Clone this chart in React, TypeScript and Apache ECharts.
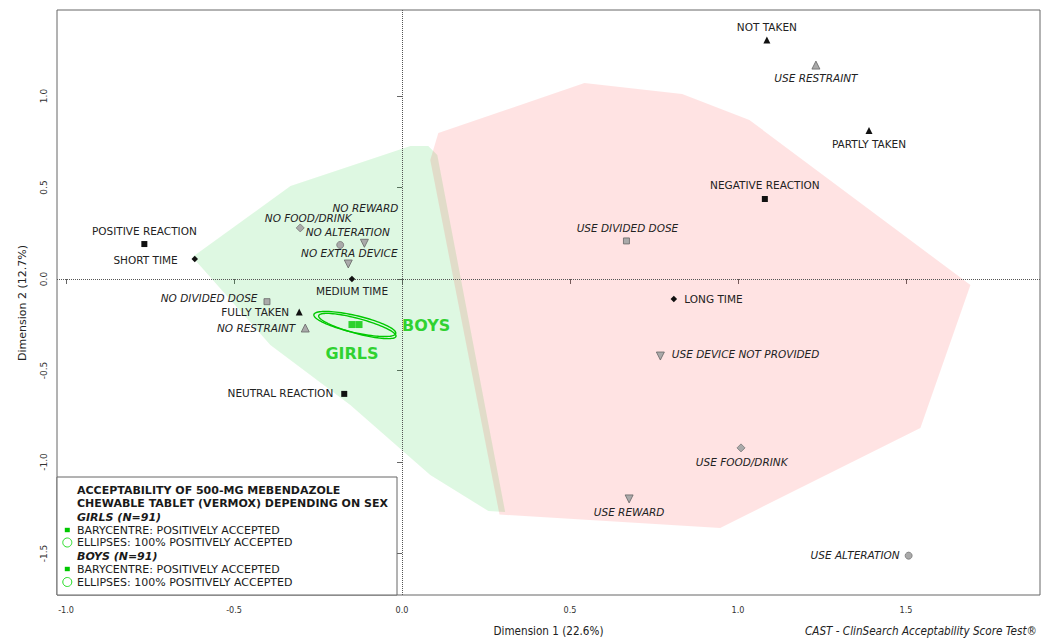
import React, { useEffect, useRef } from "react";
import * as echarts from "echarts";

// ---- Modalities (MCA coordinates) ----
const modalityNames = [
  "NOT TAKEN", "PARTLY TAKEN", "FULLY TAKEN",
  "POSITIVE REACTION", "NEGATIVE REACTION", "NEUTRAL REACTION",
  "SHORT TIME", "MEDIUM TIME", "LONG TIME",
  "USE RESTRAINT", "NO RESTRAINT",
  "USE DIVIDED DOSE", "NO DIVIDED DOSE",
  "USE FOOD/DRINK", "NO FOOD/DRINK",
  "USE ALTERATION", "NO ALTERATION",
  "USE REWARD", "NO REWARD",
  "USE DEVICE NOT PROVIDED", "NO EXTRA DEVICE",
];
const dim1Values = [
  1.086, 1.39, -0.306,
  -0.767, 1.08, -0.172,
  -0.617, -0.149, 0.809,
  1.232, -0.288,
  0.668, -0.402,
  1.009, -0.303,
  1.508, -0.184,
  0.676, -0.112,
  0.769, -0.16,
];
const dim2Values = [
  1.306, 0.811, -0.18,
  0.191, 0.437, -0.628,
  0.109, 0.0, -0.109,
  1.169, -0.268,
  0.208, -0.124,
  -0.923, 0.279,
  -1.512, 0.186,
  -1.202, 0.195,
  -0.421, 0.082,
];
const modalityVariable = [
  "taken", "taken", "taken",
  "reaction", "reaction", "reaction",
  "time", "time", "time",
  "restraint", "restraint",
  "dose", "dose",
  "food", "food",
  "alteration", "alteration",
  "reward", "reward",
  "device", "device",
];

// ---- Convex hulls (clusters) ----
const greenHullX = [-0.624, -0.332, 0.025, 0.078, 0.105, 0.307, 0.257, 0.084, -0.154, -0.392];
const greenHullY = [0.12, 0.508, 0.727, 0.727, 0.678, -1.273, -1.268, -1.071, -0.689, -0.361];
const pinkHullX = [0.108, 0.543, 0.834, 1.034, 1.692, 1.543, 0.947, 0.29, 0.084];
const pinkHullY = [0.798, 1.071, 1.011, 0.869, -0.033, -0.814, -1.361, -1.287, 0.65];

// ---- Barycentres and ellipses (girls, boys) ----
const groupNames = ["GIRLS", "BOYS"];
const barycentreX = [-0.149, -0.128];
const barycentreY = [-0.249, -0.249];
const ellipseCentreX = [-0.1405, -0.133];
const ellipseCentreY = [-0.2459, -0.257];
const ellipseMajorX = [0.1218, 0.115];
const ellipseMajorY = [-0.0516, -0.0566];
const ellipseMinorX = [-0.00569, -0.00578];
const ellipseMinorY = [-0.0452, -0.0396];

// ---- Axes ----
const xTicks = [-1.0, -0.5, 0.0, 0.5, 1.0, 1.5];
const yTicks = [-1.5, -1.0, -0.5, 0.0, 0.5, 1.0];
const xTitle = "Dimension 1 (22.6%)";
const yTitle = "Dimension 2 (12.7%)";
const footnote = "CAST - ClinSearch Acceptability Score Test®";

const FONT = '"DejaVu Sans", "Noto Sans", sans-serif';
const FONT_C = '"DejaVu Sans Condensed", "DejaVu Sans", sans-serif';
const GREEN = "#00c800";

const markerStyles: Record<string, any> = {
  taken: { symbol: "triangle", size: 7, color: "#111", border: "#111", rotate: 0, italic: false },
  reaction: { symbol: "rect", size: 6, color: "#111", border: "#111", rotate: 0, italic: false },
  time: { symbol: "diamond", size: 6.5, color: "#111", border: "#111", rotate: 0, italic: false },
  restraint: { symbol: "triangle", size: 8, color: "#aaa", border: "#666", rotate: 0, italic: true },
  dose: { symbol: "rect", size: 6, color: "#aaa", border: "#666", rotate: 0, italic: true },
  food: { symbol: "diamond", size: 8, color: "#aaa", border: "#777", rotate: 0, italic: true },
  alteration: { symbol: "circle", size: 7, color: "#aaa", border: "#777", rotate: 0, italic: true },
  reward: { symbol: "triangle", size: 8, color: "#aaa", border: "#666", rotate: 180, italic: true },
  device: { symbol: "triangle", size: 8, color: "#aaa", border: "#666", rotate: 180, italic: true },
};

// label placement: [align, dx, dy]
const labelPlacement: Record<string, [string, number, number]> = {
  "NOT TAKEN": ["center", 0, -13],
  "PARTLY TAKEN": ["center", 0, 13.5],
  "FULLY TAKEN": ["right", -10, 0],
  "POSITIVE REACTION": ["center", 0, -13.5],
  "NEGATIVE REACTION": ["center", 0, -14],
  "NEUTRAL REACTION": ["right", -11, -1],
  "SHORT TIME": ["right", -17, 1],
  "MEDIUM TIME": ["center", 0, 12.5],
  "LONG TIME": ["left", 10.5, 0],
  "USE RESTRAINT": ["center", 0, 13.3],
  "NO RESTRAINT": ["right", -10, 0],
  "USE DIVIDED DOSE": ["center", 1, -13.3],
  "NO DIVIDED DOSE": ["right", -9.5, -3.5],
  "USE FOOD/DRINK": ["center", 0.7, 13.7],
  "NO FOOD/DRINK": ["center", 8, -10],
  "USE ALTERATION": ["right", -9, -0.5],
  "NO ALTERATION": ["center", 7.5, -13],
  "USE REWARD": ["center", 0, 12.7],
  "NO REWARD": ["center", 1, -35.5],
  "USE DEVICE NOT PROVIDED": ["left", 11.5, -2.5],
  "NO EXTRA DEVICE": ["center", 1, -11],
};

function buildOption(): any {
  const variables = Array.from(new Set(modalityVariable));
  const scatterSeries = variables.map((v) => {
    const st = markerStyles[v];
    const data = modalityNames
      .map((name, i) => ({ name, i }))
      .filter((d) => modalityVariable[d.i] === v)
      .map(({ name, i }) => {
        const [align, dx, dy] = labelPlacement[name];
        return {
          name,
          value: [dim1Values[i], dim2Values[i]],
          label: {
            show: true,
            position: "inside",
            align,
            verticalAlign: "middle",
            offset: [dx, dy],
            formatter: name,
          },
        };
      });
    return {
      type: "scatter",
      name: v,
      data,
      symbol: st.symbol,
      symbolSize: st.size,
      symbolRotate: st.rotate,
      itemStyle: { color: st.color, borderColor: st.border, borderWidth: st.italic ? 0.8 : 0, opacity: 1 },
      label: {
        fontFamily: FONT,
        fontSize: 10.5,
        color: "#222",
        fontStyle: st.italic ? "italic" : "normal",
      },
      z: 5,
      silent: true,
    };
  });

  const hullSeries = (xs: number[], ys: number[], fill: string, withLines: boolean) => ({
    type: "custom",
    data: [[xs[0], ys[0]]],
    clip: true,
    z: 1,
    silent: true,
    renderItem: (_params: any, api: any) => {
      const pts = xs.map((x, i) => api.coord([x, ys[i]]));
      return { type: "polygon", shape: { points: pts }, style: { fill, stroke: "none" } };
    },
    markLine: withLines
      ? {
          silent: true,
          symbol: ["none", "none"],
          label: { show: false },
          lineStyle: { type: "dotted", color: "#555", width: 1 },
          data: [{ xAxis: 0 }, { yAxis: 0 }],
        }
      : undefined,
  });

  const ellipseSeries = {
    type: "custom",
    data: ellipseCentreX.map((x, i) => [x, ellipseCentreY[i]]),
    z: 6,
    silent: true,
    renderItem: (params: any, api: any) => {
      const i = params.dataIndex;
      const pts: number[][] = [];
      const n = 90;
      for (let k = 0; k < n; k++) {
        const t = (k / n) * Math.PI * 2;
        const x = ellipseCentreX[i] + ellipseMajorX[i] * Math.cos(t) + ellipseMinorX[i] * Math.sin(t);
        const y = ellipseCentreY[i] + ellipseMajorY[i] * Math.cos(t) + ellipseMinorY[i] * Math.sin(t);
        pts.push(api.coord([x, y]));
      }
      return { type: "polygon", shape: { points: pts }, style: { fill: "none", stroke: GREEN, lineWidth: 1.4 } };
    },
  };

  const barycentreSeries = {
    type: "scatter",
    z: 7,
    silent: true,
    symbol: "rect",
    symbolSize: 7,
    itemStyle: { color: GREEN },
    data: groupNames.map((g, i) => ({
      name: g,
      value: [barycentreX[i], barycentreY[i]],
      label: {
        show: true,
        formatter: g,
        position: "inside",
        align: i === 0 ? "center" : "left",
        verticalAlign: "middle",
        offset: i === 0 ? [0, 29] : [43, 0.5],
        fontFamily: FONT,
        fontWeight: "bold",
        fontSize: 16,
        color: GREEN,
      },
    })),
  };

  const legendLines = [
    { text: "ACCEPTABILITY OF 500-MG MEBENDAZOLE", y: 490, font: `bold 11px ${FONT}`, marker: "" },
    { text: "CHEWABLE TABLET (VERMOX) DEPENDING ON SEX", y: 503.5, font: `bold 11px ${FONT}`, marker: "" },
    { text: "GIRLS (N=91)", y: 517, font: `italic bold 11px ${FONT}`, marker: "" },
    { text: "BARYCENTRE: POSITIVELY ACCEPTED", y: 530, font: `11px ${FONT}`, marker: "rect" },
    { text: "ELLIPSES: 100% POSITIVELY ACCEPTED", y: 542.5, font: `11px ${FONT}`, marker: "circle" },
    { text: "BOYS (N=91)", y: 556, font: `italic bold 11px ${FONT}`, marker: "" },
    { text: "BARYCENTRE: POSITIVELY ACCEPTED", y: 569, font: `11px ${FONT}`, marker: "rect" },
    { text: "ELLIPSES: 100% POSITIVELY ACCEPTED", y: 582, font: `11px ${FONT}`, marker: "circle" },
  ];
  const legendElements: any[] = [
    {
      type: "rect",
      shape: { x: 57, y: 477, width: 340, height: 118 },
      style: { fill: "#fff", stroke: "#666", lineWidth: 1 },
      z: 100,
    },
  ];
  legendLines.forEach((l) => {
    legendElements.push({
      type: "text",
      x: 77,
      y: l.y,
      z: 101,
      style: { text: l.text, font: l.font, fill: "#1a1a1a", verticalAlign: "middle", align: "left" },
    });
    if (l.marker === "rect") {
      legendElements.push({
        type: "rect",
        z: 101,
        shape: { x: 64.8, y: l.y - 2.2, width: 5, height: 4.4 },
        style: { fill: GREEN },
      });
    } else if (l.marker === "circle") {
      legendElements.push({
        type: "circle",
        z: 101,
        shape: { cx: 67.3, cy: l.y, r: 4.5 },
        style: { fill: "none", stroke: "#22dd22", lineWidth: 1 },
      });
    }
  });

  const titles: any[] = [
    {
      type: "text",
      x: 548.5,
      y: 631,
      style: { text: xTitle, font: `11.6px ${FONT_C}`, fill: "#222", align: "center", verticalAlign: "middle" },
    },
    {
      type: "text",
      x: 22,
      y: 303,
      rotation: Math.PI / 2,
      style: { text: yTitle, font: `11px ${FONT}`, fill: "#222", align: "center", verticalAlign: "middle" },
    },
    {
      type: "text",
      x: 1037,
      y: 631,
      style: { text: footnote, font: `italic 11.6px ${FONT_C}`, fill: "#222", align: "right", verticalAlign: "middle" },
    },
  ];

  return {
    animation: false,
    backgroundColor: "#fff",
    grid: {
      show: true,
      left: 57,
      top: 10,
      width: 983,
      height: 585,
      borderColor: "#666",
      borderWidth: 1,
      backgroundColor: "transparent",
    },
    xAxis: {
      type: "value",
      min: -1.027,
      max: 1.899,
      axisLine: { show: false },
      splitLine: { show: false },
      axisTick: { show: true, length: 5, lineStyle: { color: "#666" }, customValues: xTicks },
      axisLabel: {
        customValues: xTicks,
        formatter: (v: number) => v.toFixed(1),
        fontFamily: FONT_C,
        fontSize: 9,
        color: "#333",
        margin: 10,
      },
    },
    yAxis: {
      type: "value",
      min: -1.727,
      max: 1.47,
      axisLine: { show: false },
      splitLine: { show: false },
      axisTick: { show: true, length: 5, lineStyle: { color: "#666" }, customValues: yTicks },
      axisLabel: {
        customValues: yTicks,
        formatter: (v: number) => v.toFixed(1),
        fontFamily: FONT,
        fontSize: 9,
        color: "#333",
        rotate: 90,
        margin: 9,
      },
    },
    graphic: [...titles, ...legendElements],
    series: [
      hullSeries(greenHullX, greenHullY, "rgba(0, 200, 30, 0.13)", false),
      hullSeries(pinkHullX, pinkHullY, "rgba(255, 0, 0, 0.11)", true),
      ...scatterSeries,
      ellipseSeries,
      barycentreSeries,
    ],
  };
}

export default function App() {
  const ref = useRef<HTMLDivElement>(null);
  useEffect(() => {
    if (!ref.current) return;
    const chart = echarts.init(ref.current, undefined, { renderer: "svg" });
    chart.setOption(buildOption());
    return () => chart.dispose();
  }, []);
  return (
    <div
      ref={ref}
      style={{ position: "absolute", left: 0, top: 0, width: 1049, height: 642, background: "#fff" }}
    />
  );
}
